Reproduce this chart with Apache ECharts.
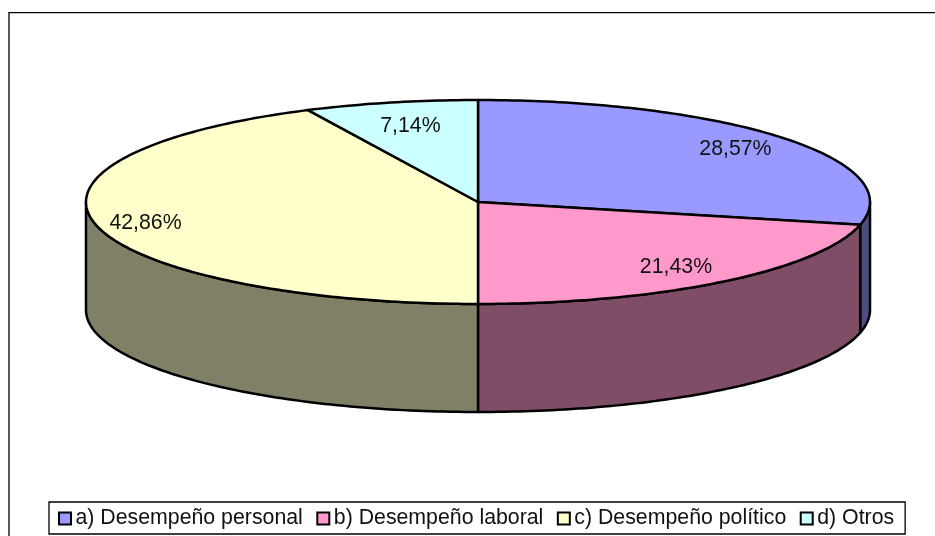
<!DOCTYPE html>
<html>
<head>
<meta charset="utf-8">
<style>html,body{margin:0;padding:0;background:#fff}#c{width:935px;height:536px}</style>
<script src="https://cdn.jsdelivr.net/npm/echarts@6/dist/echarts.min.js"></script>
</head>
<body>
<div id="c"></div>
<script>
const categories = ['a) Desempeño personal', 'b) Desempeño laboral', 'c) Desempeño político', 'd) Otros'];
const values = [28.57, 21.43, 42.86, 7.14];
const labels = ['28,57%', '21,43%', '42,86%', '7,14%'];
const topColors = ['#9999FF', '#FF99CC', '#FFFFCC', '#CCFFFF'];
const wallColors = ['#4D4D80', '#804D66', '#808066', '#668080'];
const labelReach = [0.84, 0.81, 0.87, 0.775];

const CX = 478, CY = 202, RX = 392, RY = 102, DEPTH = 108;
const total = values.reduce((a, b) => a + b, 0);
const pt = (deg, dy) => {
  const r = deg * Math.PI / 180;
  return [CX + RX * Math.sin(r), CY + (dy || 0) - RY * Math.cos(r)];
};
const arc = (from, to, dy) => {
  const out = [], n = Math.max(2, Math.ceil(Math.abs(to - from) / 1));
  for (let i = 0; i <= n; i++) out.push(pt(from + (to - from) * i / n, dy));
  return out;
};
const line = { stroke: '#000', lineWidth: 2.5, lineJoin: 'round' };

function series(idx) {
  return {
    type: 'custom',
    name: categories[idx],
    coordinateSystem: 'none',
    itemStyle: { color: topColors[idx] },
    data: [[values[idx]]],
    silent: true,
    renderItem(params, api) {
      const before = values.slice(0, idx).reduce((a, b) => a + b, 0);
      const start = before / total * 360;
      const end = start + api.value(0) / total * 360;
      const kids = [];
      const wFrom = Math.max(start, 90), wTo = Math.min(end, 270);
      if (wTo > wFrom) {
        kids.push({
          type: 'polygon',
          shape: { points: arc(wFrom, wTo, 0).concat(arc(wTo, wFrom, DEPTH)) },
          style: Object.assign({ fill: wallColors[idx] }, line)
        });
      }
      kids.push({
        type: 'polygon',
        shape: { points: [[CX, CY]].concat(arc(start, end, 0)) },
        style: Object.assign({ fill: topColors[idx] }, line)
      });
      const mid = (start + end) / 2 * Math.PI / 180;
      const f = labelReach[idx];
      kids.push({
        type: 'text',
        z2: 10,
        style: {
          x: CX + RX * f * Math.sin(mid),
          y: CY + 1 - RY * f * Math.cos(mid),
          text: labels[idx],
          fill: '#111',
          font: '21.3px "Liberation Sans", Arial, sans-serif',
          align: 'center',
          verticalAlign: 'middle'
        }
      });
      return { type: 'group', children: kids };
    }
  };
}

const chart = echarts.init(document.getElementById('c'), null, { renderer: 'canvas' });
chart.setOption({
  animation: false,
  backgroundColor: '#fff',
  graphic: [{
    type: 'rect', silent: true, z: -1,
    shape: { x: 9, y: 12.7, width: 960, height: 560 },
    style: { fill: '#fff', stroke: '#000', lineWidth: 1.3 }
  }],
  legend: {
    left: 49, top: 502,
    orient: 'horizontal',
    data: categories,
    icon: 'rect',
    itemWidth: 12, itemHeight: 12, itemGap: 13.5,
    padding: [6, 11, 5, 9],
    backgroundColor: '#fff',
    borderColor: '#000', borderWidth: 1.3,
    selectedMode: false,
    itemStyle: { borderColor: '#000', borderWidth: 2 },
    textStyle: { color: '#111', fontFamily: '"Liberation Sans", Arial, sans-serif', fontSize: 21.3, padding: [0, 0, 0, -0.5] }
  },
  series: categories.map((_, i) => series(i))
});
</script>
</body>
</html>
